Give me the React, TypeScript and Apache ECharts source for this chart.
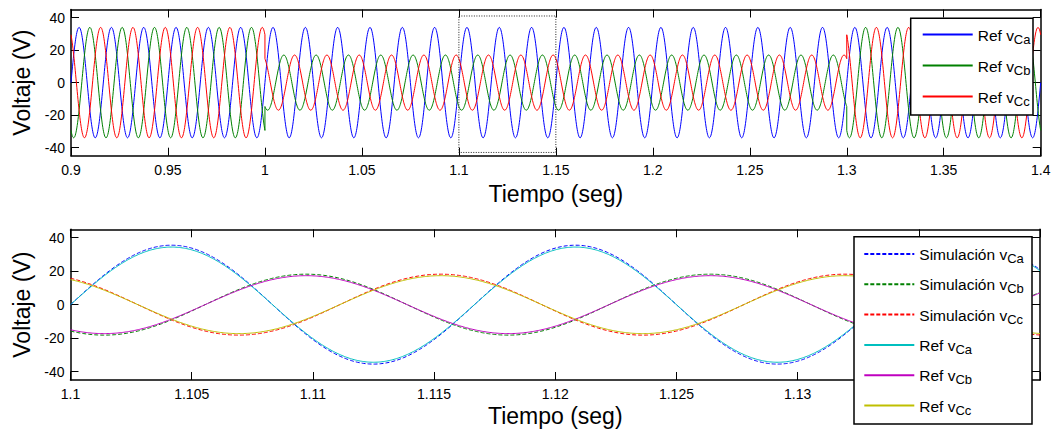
import React, { useEffect, useRef } from "react";
import * as echarts from "echarts";

// ---- values ----
const FREQ_HZ = 60;
const T_ZERO = 1.1; // phase A crosses zero (rising) here
const PHASE_DEG = [0, -120, 120]; // phases A, B, C

// upper plot: reference voltages by segment
const topSegStart = [0.9, 1.0, 1.3];
const topSegEnd = [1.0, 1.3, 1.4];
const topAmpA = [34, 34, 34];
const topAmpB = [34, 17, 34];
const topAmpC = [34, 17, 34];

// lower plot (zoom of 1.1 .. 1.14 s)
const botStart = 1.1;
const botEnd = 1.14;
const simAmp = [35.5, 18.2, 18.2];
const refAmp = [34.4, 17.3, 17.3];

// zoom rectangle on upper plot
const zoomBoxX = [1.1, 1.15];
const zoomBoxY = [-43, 41];

// ticks
const yTickValues = [-40, -20, 0, 20, 40];
const topXRange = [0.9, 1.4, 0.05];
const botXRange = [1.1, 1.14, 0.005];
// labels visible on the lower x axis (the rest sit under the legend box)
const botXLabelValues = [1.1, 1.105, 1.11, 1.115, 1.12, 1.125, 1.13];

const legendLabels: Record<string, string> = {
  tA: "{m|Ref v}{s|Ca}",
  tB: "{m|Ref v}{s|Cb}",
  tC: "{m|Ref v}{s|Cc}",
  sA: "{m|Simulación v}{s|Ca}",
  sB: "{m|Simulación v}{s|Cb}",
  sC: "{m|Simulación v}{s|Cc}",
  rA: "{m|Ref v}{s|Ca}",
  rB: "{m|Ref v}{s|Cb}",
  rC: "{m|Ref v}{s|Cc}",
};

// samples a sinusoid between t0 and t1 with given amplitude and phase
function wave(t0: number, t1: number, amp: number, phaseDeg: number, step: number) {
  const pts: [number, number][] = [];
  const n = Math.round((t1 - t0) / step);
  for (let i = 0; i <= n; i++) {
    const t = t0 + (i * (t1 - t0)) / n;
    const th = 2 * Math.PI * FREQ_HZ * (t - T_ZERO) + (phaseDeg * Math.PI) / 180;
    pts.push([t, amp * Math.sin(th)]);
  }
  return pts;
}

function topPhase(amps: number[], phaseDeg: number) {
  let out: [number, number][] = [];
  for (let k = 0; k < topSegStart.length; k++) {
    out = out.concat(wave(topSegStart[k], topSegEnd[k], amps[k], phaseDeg, 0.0002));
  }
  return out;
}

const FONT = "'Liberation Sans', Arial, Helvetica, sans-serif";

const fmt = (v: number) => String(+Number(v).toFixed(4));

function xAxesFor(gridIndex: number, r: number[], nameGap: number, labelValues?: number[]) {
  const common = {
    type: "value",
    gridIndex,
    min: r[0],
    max: r[1],
    interval: r[2],
    splitLine: { show: false },
    axisLine: { show: true, onZero: false, lineStyle: { color: "#000", width: 1.5 } },
    axisTick: { show: true, inside: true, length: 8, lineStyle: { color: "#000", width: 1 } },
  };
  const label: any = {
    show: true,
    margin: 7,
    fontSize: 14,
    color: "#000",
    fontFamily: FONT,
    formatter: fmt,
    showMaxLabel: true,
    showMinLabel: true,
  };
  if (labelValues) label.customValues = labelValues;
  return [
    {
      ...common,
      position: "bottom",
      name: "Tiempo (seg)",
      nameLocation: "middle",
      nameGap,
      nameTextStyle: { fontSize: 23, color: "#000", fontFamily: FONT },
      axisLabel: label,
    },
    { ...common, position: "top", axisLabel: { show: false } },
  ];
}

function yAxesFor(gridIndex: number, nameGap: number) {
  const common = {
    type: "value",
    gridIndex,
    min: -45,
    max: 45,
    splitLine: { show: false },
    axisLine: { show: true, onZero: false, lineStyle: { color: "#000", width: 1.5 } },
    axisTick: {
      show: true,
      inside: true,
      length: 8,
      customValues: yTickValues,
      lineStyle: { color: "#000", width: 1 },
    },
  };
  return [
    {
      ...common,
      position: "left",
      name: "Voltaje (V)",
      nameLocation: "middle",
      nameGap,
      nameTextStyle: { fontSize: 23, color: "#000", fontFamily: FONT },
      axisLabel: {
        show: true,
        margin: 6,
        fontSize: 14,
        color: "#000",
        fontFamily: FONT,
        customValues: yTickValues,
      },
    },
    { ...common, position: "right", axisLabel: { show: false } },
  ];
}

function lineSeries(name: string, data: [number, number][], color: string, xi: number, yi: number, dashed: boolean, z = 2) {
  return {
    type: "line",
    name,
    data,
    xAxisIndex: xi,
    yAxisIndex: yi,
    symbol: "none",
    showSymbol: false,
    silent: true,
    z,
    lineStyle: { color, width: 1, type: dashed ? [4, 2] : "solid" },
    itemStyle: { color },
  };
}

const richText = {
  m: { fontSize: 15.5, lineHeight: 15, verticalAlign: "top", color: "#000", fontFamily: FONT },
  s: { fontSize: 13, lineHeight: 13, padding: [9, 0, 0, 0], color: "#000", fontFamily: FONT },
};

export default function App() {
  const ref = useRef<HTMLDivElement>(null);
  useEffect(() => {
    if (!ref.current) return;
    const chart = echarts.init(ref.current, undefined, { renderer: "svg" });

    const zoomBox: [number, number][] = [
      [zoomBoxX[0], zoomBoxY[1]],
      [zoomBoxX[1], zoomBoxY[1]],
      [zoomBoxX[1], zoomBoxY[0]],
      [zoomBoxX[0], zoomBoxY[0]],
      [zoomBoxX[0], zoomBoxY[1]],
    ];

    const series: any[] = [
      lineSeries("tA", topPhase(topAmpA, PHASE_DEG[0]), "#0000ff", 0, 0, false),
      lineSeries("tB", topPhase(topAmpB, PHASE_DEG[1]), "#008000", 0, 0, false),
      lineSeries("tC", topPhase(topAmpC, PHASE_DEG[2]), "#ff0000", 0, 0, false),
      {
        type: "line",
        name: "zoombox",
        data: zoomBox,
        xAxisIndex: 0,
        yAxisIndex: 0,
        symbol: "none",
        silent: true,
        z: 5,
        lineStyle: { color: "#222", width: 1, type: [1, 1.5] },
      },
      lineSeries("sA", wave(botStart, botEnd, simAmp[0], PHASE_DEG[0], 0.00005), "#0000ff", 2, 2, true),
      lineSeries("sB", wave(botStart, botEnd, simAmp[1], PHASE_DEG[1], 0.00005), "#008000", 2, 2, true),
      lineSeries("sC", wave(botStart, botEnd, simAmp[2], PHASE_DEG[2], 0.00005), "#ff0000", 2, 2, true),
      lineSeries("rA", wave(botStart, botEnd, refAmp[0], PHASE_DEG[0], 0.00005), "#00bfbf", 2, 2, false, 3),
      lineSeries("rB", wave(botStart, botEnd, refAmp[1], PHASE_DEG[1], 0.00005), "#bf00bf", 2, 2, false, 3),
      lineSeries("rC", wave(botStart, botEnd, refAmp[2], PHASE_DEG[2], 0.00005), "#bfbf00", 2, 2, false, 3),
    ];

    const legendCommon = {
      orient: "vertical",
      padding: 0,
      itemWidth: 50,
      itemHeight: 14,
      selectedMode: false,
      z: 20,
      itemStyle: { opacity: 0 },
      formatter: (n: string) => legendLabels[n] || n,
      textStyle: { color: "#000", fontFamily: FONT, fontSize: 15, rich: richText },
    };

    chart.setOption({
      animation: false,
      backgroundColor: "#fff",
      grid: [
        { left: 71, top: 9.5, width: 969.7, height: 146.2 },
        { left: 70.5, top: 229.3, width: 969.5, height: 150.7 },
      ],
      xAxis: [...xAxesFor(0, topXRange, 27), ...xAxesFor(1, botXRange, 24, botXLabelValues)],
      yAxis: [...yAxesFor(0, 36), ...yAxesFor(1, 35)],
      legend: [
        { ...legendCommon, data: ["tA", "tB", "tC"], left: 921.7, top: 23.5, itemGap: 9 },
        { ...legendCommon, data: ["sA", "sB", "sC", "rA", "rB", "rC"], left: 863.3, top: 243, itemGap: 8.3 },
      ],
      graphic: [
        {
          type: "rect",
          z: 10,
          silent: true,
          shape: { x: 910.7, y: 18.3, width: 122.3, height: 96.7 },
          style: { fill: "#fff", stroke: "#000", lineWidth: 1.5 },
        },
        {
          type: "rect",
          z: 10,
          silent: true,
          shape: { x: 854, y: 236.7, width: 178, height: 187.3 },
          style: { fill: "#fff", stroke: "#000", lineWidth: 1.5 },
        },
      ],
      series,
    } as any);

    return () => chart.dispose();
  }, []);

  return (
    <div
      ref={ref}
      style={{ position: "fixed", left: 0, top: 0, width: 1056, height: 433, background: "#fff" }}
    />
  );
}
